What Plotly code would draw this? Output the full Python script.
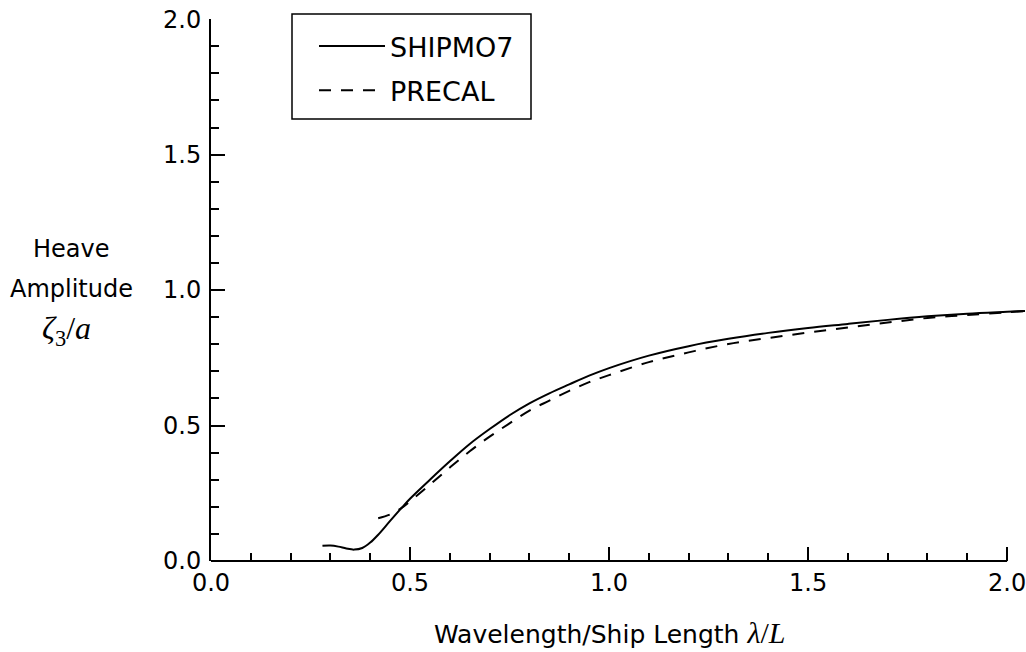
import plotly.graph_objects as go

# SHIPMO7 (solid)
shipmo_x = [0.28, 0.30, 0.32, 0.34, 0.36, 0.38, 0.40, 0.42, 0.45, 0.48, 0.50, 0.55, 0.60, 0.65,
            0.70, 0.75, 0.80, 0.85, 0.90, 0.95, 1.00, 1.10, 1.20, 1.30, 1.40, 1.50, 1.60, 1.70,
            1.80, 1.90, 2.00, 2.045]
shipmo_y = [0.056, 0.057, 0.053, 0.046, 0.042, 0.048, 0.068, 0.097, 0.148, 0.198, 0.230, 0.300,
            0.368, 0.432, 0.487, 0.538, 0.582, 0.619, 0.652, 0.684, 0.712, 0.758, 0.793, 0.820,
            0.842, 0.860, 0.875, 0.890, 0.903, 0.913, 0.920, 0.923]

# PRECAL (dashed)
precal_x = [0.42, 0.45, 0.48, 0.50, 0.55, 0.60, 0.65, 0.70, 0.75, 0.80, 0.85, 0.90, 0.95, 1.00,
            1.10, 1.20, 1.30, 1.40, 1.50, 1.60, 1.70, 1.80, 1.90, 2.00, 2.045]
precal_y = [0.158, 0.172, 0.197, 0.220, 0.282, 0.345, 0.405, 0.459, 0.508, 0.555, 0.592, 0.628,
            0.660, 0.686, 0.734, 0.770, 0.801, 0.823, 0.843, 0.862, 0.880, 0.897, 0.908, 0.918,
            0.922]

x_ticks = [0.0, 0.5, 1.0, 1.5, 2.0]
x_tick_labels = ["0.0", "0.5", "1.0", "1.5", "2.0"]
y_ticks = [0.0, 0.5, 1.0, 1.5, 2.0]
y_tick_labels = ["0.0", "0.5", "1.0", "1.5", "2.0"]

SANS = "DejaVu Sans"
SERIF = "Liberation Serif"

fig = go.Figure()
fig.add_trace(go.Scatter(x=shipmo_x, y=shipmo_y, mode="lines", name="SHIPMO7",
                         legendgroup="a",
                         line=dict(color="black", width=2, shape="spline")))
fig.add_trace(go.Scatter(x=precal_x, y=precal_y, mode="lines", name="PRECAL",
                         legendgroup="b",
                         line=dict(color="black", width=2, dash="12px,10px", shape="spline")))

axis_common = dict(
    showgrid=False, zeroline=False, ticks="inside", ticklen=14, tickwidth=2,
    tickcolor="black", tickfont=dict(family=SANS, size=24, color="black"),
    ticklabeloverflow="allow",
)

fig.update_xaxes(range=[0, 2.045], tickvals=x_ticks, ticktext=x_tick_labels,
                 showline=False, ticklabelstandoff=5,
                 minor=dict(dtick=0.1, tick0=0, ticks="inside", ticklen=8, tickwidth=2,
                            tickcolor="black", showgrid=False),
                 **axis_common)
fig.update_yaxes(range=[0, 2.0005], tickvals=y_ticks, ticktext=y_tick_labels,
                 showline=True, linecolor="black", linewidth=2, ticklabelstandoff=3,
                 minor=dict(dtick=0.1, tick0=0, ticks="inside", ticklen=8, tickwidth=2,
                            tickcolor="black", showgrid=False),
                 **axis_common)

# bottom axis line ending at 2.0
fig.add_shape(type="line", xref="x", yref="paper", x0=0, x1=2.0, y0=0, y1=0,
              line=dict(color="black", width=2))

# legend frame
fig.add_shape(type="rect", xref="paper", yref="paper",
              x0=(292 - 211) / 814, x1=(531 - 211) / 814,
              y0=(561 - 119) / 542, y1=(561 - 14) / 542,
              line=dict(color="black", width=1.5), fillcolor="white", layer="below")

ann_font = dict(family=SANS, size=24, color="black")
fig.add_annotation(text="Wavelength/Ship Length "
                        f"<span style='font-family:{SERIF};font-size:30px'><i>λ</i>/<i>L</i></span>",
                   xref="paper", yref="paper", x=0.489, y=-0.131, xanchor="center",
                   yanchor="middle", showarrow=False,
                   font=dict(family=SANS, size=25, color="black"))
fig.add_annotation(text="Heave", xref="paper", yref="paper", x=-0.1708, y=(561 - 249) / 542,
                   xanchor="center", yanchor="middle", showarrow=False, font=ann_font)
fig.add_annotation(text="Amplitude", xref="paper", yref="paper", x=-0.1708,
                   y=(561 - 289) / 542, xanchor="center", yanchor="middle",
                   showarrow=False, font=ann_font)
fig.add_annotation(text="<i>ζ</i><sub>3</sub>/<i>a</i>",
                   xref="paper", yref="paper", x=-0.1770, y=(561 - 330) / 542,
                   xanchor="center", yanchor="middle", showarrow=False,
                   font=dict(family=SERIF, size=32, color="black"))

fig.update_layout(
    width=1026, height=652,
    margin=dict(l=211, r=1, t=19, b=91),
    paper_bgcolor="white", plot_bgcolor="white",
    showlegend=True,
    legend=dict(x=(314 - 211) / 814, y=(561 - 22) / 542, xanchor="left", yanchor="top",
                bgcolor="rgba(0,0,0,0)", borderwidth=0,
                font=dict(family=SANS, size=27, color="black"),
                itemwidth=66, tracegroupgap=6, traceorder="grouped"),
)

fig.write_html(
    "out.html",
    config={"displayModeBar": False},
    post_script="document.body.style.margin='0';document.body.style.overflow='hidden';",
)
